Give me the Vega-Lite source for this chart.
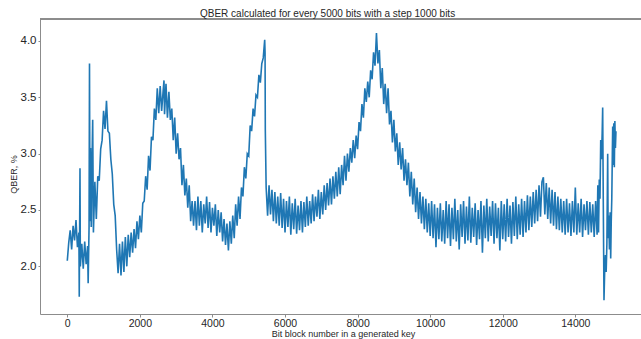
{
  "$schema": "https://vega.github.io/schema/vega-lite/v6.json",
  "autosize": "none",
  "width": 601,
  "height": 295,
  "padding": {"left": 40, "top": 19, "right": 0, "bottom": 25},
  "background": "white",
  "config": {"view": {"stroke": null}, "font": "Liberation Sans"},
  "title": {"text": "QBER calculated for every 5000 bits with a step 1000 bits", "anchor": "start", "frame": "group", "dx": 160, "fontSize": 10, "font": "Liberation Sans", "fontWeight": "normal", "color": "#262626", "offset": -8, "baseline": "alphabetic"},
  "data": {"values": [
{"x":0,"y":2.05},{"x":40,"y":2.21},{"x":80,"y":2.32},{"x":120,"y":2.15},{"x":160,"y":2.36},{"x":200,"y":2.23},{"x":240,"y":2.41},{"x":280,"y":2.17},{"x":320,"y":2.30},{"x":330,"y":1.73},{"x":350,"y":2.87},{"x":360,"y":2.00},{"x":400,"y":2.20},{"x":440,"y":1.98},{"x":480,"y":2.22},{"x":520,"y":2.02},{"x":560,"y":2.18},{"x":575,"y":1.85},{"x":600,"y":2.35},{"x":612,"y":3.80},{"x":625,"y":2.40},{"x":640,"y":3.05},{"x":660,"y":2.35},{"x":680,"y":2.90},{"x":700,"y":3.30},{"x":720,"y":2.30},{"x":760,"y":2.75},{"x":800,"y":2.42},{"x":840,"y":2.80},{"x":880,"y":2.76},{"x":920,"y":3.04},{"x":960,"y":3.12},{"x":1000,"y":3.38},{"x":1040,"y":3.22},{"x":1080,"y":3.47},{"x":1120,"y":3.20},{"x":1160,"y":3.18},{"x":1200,"y":2.95},{"x":1240,"y":2.82},{"x":1280,"y":2.55},{"x":1320,"y":2.45},{"x":1360,"y":2.15},{"x":1400,"y":1.94},{"x":1440,"y":2.20},{"x":1480,"y":1.92},{"x":1520,"y":2.22},{"x":1560,"y":1.95},{"x":1600,"y":2.26},{"x":1640,"y":2.00},{"x":1680,"y":2.28},{"x":1720,"y":2.08},{"x":1760,"y":2.30},{"x":1800,"y":2.12},{"x":1840,"y":2.33},{"x":1880,"y":2.16},{"x":1920,"y":2.40},{"x":1960,"y":2.24},{"x":2000,"y":2.45},{"x":2040,"y":2.30},{"x":2080,"y":2.56},{"x":2120,"y":2.58},{"x":2160,"y":2.80},{"x":2200,"y":2.68},{"x":2240,"y":2.98},{"x":2280,"y":2.85},{"x":2320,"y":3.15},{"x":2360,"y":3.12},{"x":2400,"y":3.40},{"x":2440,"y":3.30},{"x":2480,"y":3.58},{"x":2520,"y":3.36},{"x":2560,"y":3.60},{"x":2600,"y":3.38},{"x":2640,"y":3.55},{"x":2665,"y":3.65},{"x":2680,"y":3.35},{"x":2720,"y":3.62},{"x":2760,"y":3.32},{"x":2800,"y":3.55},{"x":2840,"y":3.30},{"x":2880,"y":3.40},{"x":2920,"y":3.12},{"x":2960,"y":3.32},{"x":3000,"y":3.00},{"x":3040,"y":3.18},{"x":3080,"y":2.95},{"x":3120,"y":3.05},{"x":3160,"y":2.72},{"x":3200,"y":2.90},{"x":3240,"y":2.63},{"x":3280,"y":2.78},{"x":3320,"y":2.52},{"x":3360,"y":2.72},{"x":3400,"y":2.40},{"x":3440,"y":2.58},{"x":3480,"y":2.36},{"x":3520,"y":2.58},{"x":3560,"y":2.32},{"x":3600,"y":2.62},{"x":3640,"y":2.36},{"x":3680,"y":2.58},{"x":3720,"y":2.30},{"x":3760,"y":2.55},{"x":3800,"y":2.38},{"x":3840,"y":2.62},{"x":3880,"y":2.34},{"x":3920,"y":2.57},{"x":3960,"y":2.30},{"x":4000,"y":2.52},{"x":4040,"y":2.36},{"x":4080,"y":2.55},{"x":4120,"y":2.27},{"x":4160,"y":2.50},{"x":4200,"y":2.30},{"x":4240,"y":2.48},{"x":4280,"y":2.22},{"x":4320,"y":2.42},{"x":4360,"y":2.19},{"x":4400,"y":2.38},{"x":4440,"y":2.14},{"x":4480,"y":2.40},{"x":4520,"y":2.20},{"x":4560,"y":2.45},{"x":4600,"y":2.25},{"x":4640,"y":2.55},{"x":4680,"y":2.36},{"x":4720,"y":2.62},{"x":4760,"y":2.42},{"x":4800,"y":2.70},{"x":4840,"y":2.62},{"x":4880,"y":2.88},{"x":4920,"y":2.78},{"x":4960,"y":3.00},{"x":5000,"y":2.98},{"x":5040,"y":3.25},{"x":5080,"y":3.20},{"x":5120,"y":3.40},{"x":5160,"y":3.33},{"x":5200,"y":3.52},{"x":5240,"y":3.50},{"x":5280,"y":3.70},{"x":5320,"y":3.63},{"x":5360,"y":3.80},{"x":5400,"y":3.85},{"x":5440,"y":4.01},{"x":5450,"y":3.90},{"x":5457,"y":3.21},{"x":5480,"y":2.70},{"x":5520,"y":2.45},{"x":5560,"y":2.72},{"x":5600,"y":2.46},{"x":5640,"y":2.68},{"x":5680,"y":2.40},{"x":5720,"y":2.66},{"x":5760,"y":2.38},{"x":5800,"y":2.62},{"x":5840,"y":2.36},{"x":5880,"y":2.65},{"x":5920,"y":2.34},{"x":5960,"y":2.60},{"x":6000,"y":2.30},{"x":6040,"y":2.58},{"x":6080,"y":2.35},{"x":6120,"y":2.62},{"x":6160,"y":2.28},{"x":6200,"y":2.56},{"x":6240,"y":2.33},{"x":6280,"y":2.60},{"x":6320,"y":2.29},{"x":6360,"y":2.54},{"x":6400,"y":2.32},{"x":6440,"y":2.58},{"x":6480,"y":2.30},{"x":6520,"y":2.57},{"x":6560,"y":2.35},{"x":6600,"y":2.62},{"x":6640,"y":2.36},{"x":6680,"y":2.58},{"x":6720,"y":2.38},{"x":6760,"y":2.64},{"x":6800,"y":2.40},{"x":6840,"y":2.62},{"x":6880,"y":2.44},{"x":6920,"y":2.68},{"x":6960,"y":2.42},{"x":7000,"y":2.66},{"x":7040,"y":2.46},{"x":7080,"y":2.72},{"x":7120,"y":2.50},{"x":7160,"y":2.74},{"x":7200,"y":2.54},{"x":7240,"y":2.78},{"x":7280,"y":2.55},{"x":7320,"y":2.80},{"x":7360,"y":2.60},{"x":7400,"y":2.84},{"x":7440,"y":2.62},{"x":7480,"y":2.88},{"x":7520,"y":2.64},{"x":7560,"y":2.90},{"x":7600,"y":2.72},{"x":7640,"y":2.98},{"x":7680,"y":2.76},{"x":7720,"y":3.00},{"x":7760,"y":2.84},{"x":7800,"y":3.05},{"x":7840,"y":2.92},{"x":7880,"y":3.12},{"x":7920,"y":2.96},{"x":7960,"y":3.16},{"x":8000,"y":3.04},{"x":8040,"y":3.28},{"x":8080,"y":3.20},{"x":8120,"y":3.44},{"x":8160,"y":3.32},{"x":8200,"y":3.58},{"x":8240,"y":3.46},{"x":8280,"y":3.64},{"x":8320,"y":3.50},{"x":8360,"y":3.74},{"x":8400,"y":3.66},{"x":8440,"y":3.90},{"x":8480,"y":3.78},{"x":8520,"y":4.07},{"x":8560,"y":3.80},{"x":8600,"y":3.92},{"x":8640,"y":3.58},{"x":8680,"y":3.76},{"x":8720,"y":3.44},{"x":8760,"y":3.62},{"x":8800,"y":3.36},{"x":8840,"y":3.58},{"x":8880,"y":3.26},{"x":8920,"y":3.38},{"x":8960,"y":3.10},{"x":9000,"y":3.30},{"x":9040,"y":3.02},{"x":9080,"y":3.18},{"x":9120,"y":2.90},{"x":9160,"y":3.10},{"x":9200,"y":2.86},{"x":9240,"y":3.05},{"x":9280,"y":2.76},{"x":9320,"y":2.95},{"x":9360,"y":2.72},{"x":9400,"y":2.92},{"x":9440,"y":2.62},{"x":9480,"y":2.84},{"x":9520,"y":2.55},{"x":9560,"y":2.78},{"x":9600,"y":2.48},{"x":9640,"y":2.70},{"x":9680,"y":2.42},{"x":9720,"y":2.66},{"x":9760,"y":2.38},{"x":9800,"y":2.62},{"x":9840,"y":2.33},{"x":9880,"y":2.60},{"x":9920,"y":2.30},{"x":9960,"y":2.56},{"x":10000,"y":2.27},{"x":10040,"y":2.58},{"x":10080,"y":2.25},{"x":10120,"y":2.55},{"x":10160,"y":2.17},{"x":10200,"y":2.52},{"x":10240,"y":2.24},{"x":10280,"y":2.56},{"x":10320,"y":2.22},{"x":10360,"y":2.50},{"x":10400,"y":2.20},{"x":10440,"y":2.58},{"x":10480,"y":2.25},{"x":10520,"y":2.55},{"x":10560,"y":2.18},{"x":10600,"y":2.52},{"x":10640,"y":2.24},{"x":10680,"y":2.60},{"x":10720,"y":2.22},{"x":10760,"y":2.50},{"x":10800,"y":2.15},{"x":10840,"y":2.55},{"x":10880,"y":2.26},{"x":10920,"y":2.58},{"x":10960,"y":2.20},{"x":11000,"y":2.53},{"x":11040,"y":2.23},{"x":11080,"y":2.62},{"x":11120,"y":2.21},{"x":11160,"y":2.52},{"x":11200,"y":2.26},{"x":11240,"y":2.56},{"x":11280,"y":2.19},{"x":11320,"y":2.50},{"x":11360,"y":2.24},{"x":11400,"y":2.58},{"x":11440,"y":2.12},{"x":11480,"y":2.54},{"x":11520,"y":2.25},{"x":11560,"y":2.60},{"x":11600,"y":2.22},{"x":11640,"y":2.53},{"x":11680,"y":2.27},{"x":11720,"y":2.58},{"x":11760,"y":2.20},{"x":11800,"y":2.56},{"x":11840,"y":2.25},{"x":11880,"y":2.52},{"x":11920,"y":2.14},{"x":11960,"y":2.58},{"x":12000,"y":2.24},{"x":12040,"y":2.55},{"x":12080,"y":2.22},{"x":12120,"y":2.60},{"x":12160,"y":2.26},{"x":12200,"y":2.54},{"x":12240,"y":2.20},{"x":12280,"y":2.57},{"x":12320,"y":2.27},{"x":12360,"y":2.62},{"x":12400,"y":2.24},{"x":12440,"y":2.55},{"x":12480,"y":2.28},{"x":12520,"y":2.60},{"x":12560,"y":2.26},{"x":12600,"y":2.58},{"x":12640,"y":2.30},{"x":12680,"y":2.63},{"x":12720,"y":2.32},{"x":12760,"y":2.62},{"x":12800,"y":2.35},{"x":12840,"y":2.66},{"x":12880,"y":2.38},{"x":12920,"y":2.68},{"x":12960,"y":2.40},{"x":13000,"y":2.72},{"x":13040,"y":2.44},{"x":13080,"y":2.75},{"x":13120,"y":2.79},{"x":13160,"y":2.46},{"x":13200,"y":2.74},{"x":13240,"y":2.42},{"x":13280,"y":2.70},{"x":13320,"y":2.38},{"x":13360,"y":2.68},{"x":13400,"y":2.36},{"x":13440,"y":2.66},{"x":13480,"y":2.33},{"x":13520,"y":2.62},{"x":13560,"y":2.32},{"x":13600,"y":2.60},{"x":13640,"y":2.30},{"x":13680,"y":2.58},{"x":13720,"y":2.28},{"x":13760,"y":2.60},{"x":13800,"y":2.30},{"x":13840,"y":2.56},{"x":13880,"y":2.27},{"x":13920,"y":2.58},{"x":13960,"y":2.30},{"x":14000,"y":2.70},{"x":14040,"y":2.28},{"x":14080,"y":2.56},{"x":14120,"y":2.30},{"x":14160,"y":2.60},{"x":14200,"y":2.26},{"x":14240,"y":2.55},{"x":14280,"y":2.32},{"x":14320,"y":2.58},{"x":14360,"y":2.28},{"x":14400,"y":2.57},{"x":14440,"y":2.30},{"x":14480,"y":2.55},{"x":14520,"y":2.26},{"x":14560,"y":2.58},{"x":14600,"y":2.28},{"x":14620,"y":2.72},{"x":14640,"y":2.30},{"x":14660,"y":2.77},{"x":14680,"y":2.60},{"x":14700,"y":3.12},{"x":14720,"y":2.95},{"x":14740,"y":3.18},{"x":14754,"y":3.41},{"x":14770,"y":2.60},{"x":14790,"y":1.70},{"x":14810,"y":1.97},{"x":14830,"y":2.10},{"x":14850,"y":1.95},{"x":14870,"y":2.20},{"x":14892,"y":3.00},{"x":14905,"y":2.25},{"x":14920,"y":2.45},{"x":14940,"y":2.15},{"x":14960,"y":2.48},{"x":14975,"y":2.07},{"x":14990,"y":2.40},{"x":15005,"y":2.60},{"x":15020,"y":3.00},{"x":15030,"y":3.24},{"x":15045,"y":2.90},{"x":15060,"y":3.27},{"x":15075,"y":2.88},{"x":15090,"y":3.29},{"x":15105,"y":3.05},{"x":15120,"y":3.20}
  ]},
  "encoding": {
    "x": {"field": "x", "type": "quantitative", "scale": {"domain": [-752, 15810], "nice": false, "zero": false},
      "axis": {"orient": "bottom", "values": [0, 2000, 4000, 6000, 8000, 10000, 12000, 14000], "format": "d", "grid": false,
        "domainColor": "#8c8c8c", "domainWidth": 1, "tickColor": "#8c8c8c", "tickSize": 3, "labelPadding": 1,
        "labelFont": "Liberation Sans", "labelFontSize": 10.5, "labelColor": "#262626",
        "title": "Bit block number in a generated key", "titleFont": "Liberation Sans", "titleFontSize": 9, "titleFontWeight": "normal", "titleColor": "#262626", "titlePadding": 1, "titleX": 303}},
    "y": {"field": "y", "type": "quantitative", "scale": {"domain": [1.577, 4.195], "nice": false, "zero": false},
      "axis": {"values": [2, 2.5, 3, 3.5, 4], "format": ".1f", "grid": false,
        "domainColor": "#8c8c8c", "domainWidth": 1, "tickColor": "#8c8c8c", "tickSize": 2, "labelPadding": 2,
        "labelFont": "Liberation Sans", "labelFontSize": 11.5, "labelColor": "#262626",
        "title": "QBER, %", "titleFont": "Liberation Sans", "titleFontSize": 9, "titleFontWeight": "normal", "titleColor": "#262626",
        "titleAngle": -90, "titleX": -27, "titleY": 155, "titleAlign": "center", "titleBaseline": "middle"}}
  },
  "layer": [
    {"mark": {"type": "line", "color": "#1f77b4", "strokeWidth": 1.6, "clip": true}},
    {"mark": {"type": "rule", "color": "#8c8c8c", "strokeWidth": 1}, "encoding": {"x": null, "y": {"datum": 4.195, "type": "quantitative"}}}
  ]
}
